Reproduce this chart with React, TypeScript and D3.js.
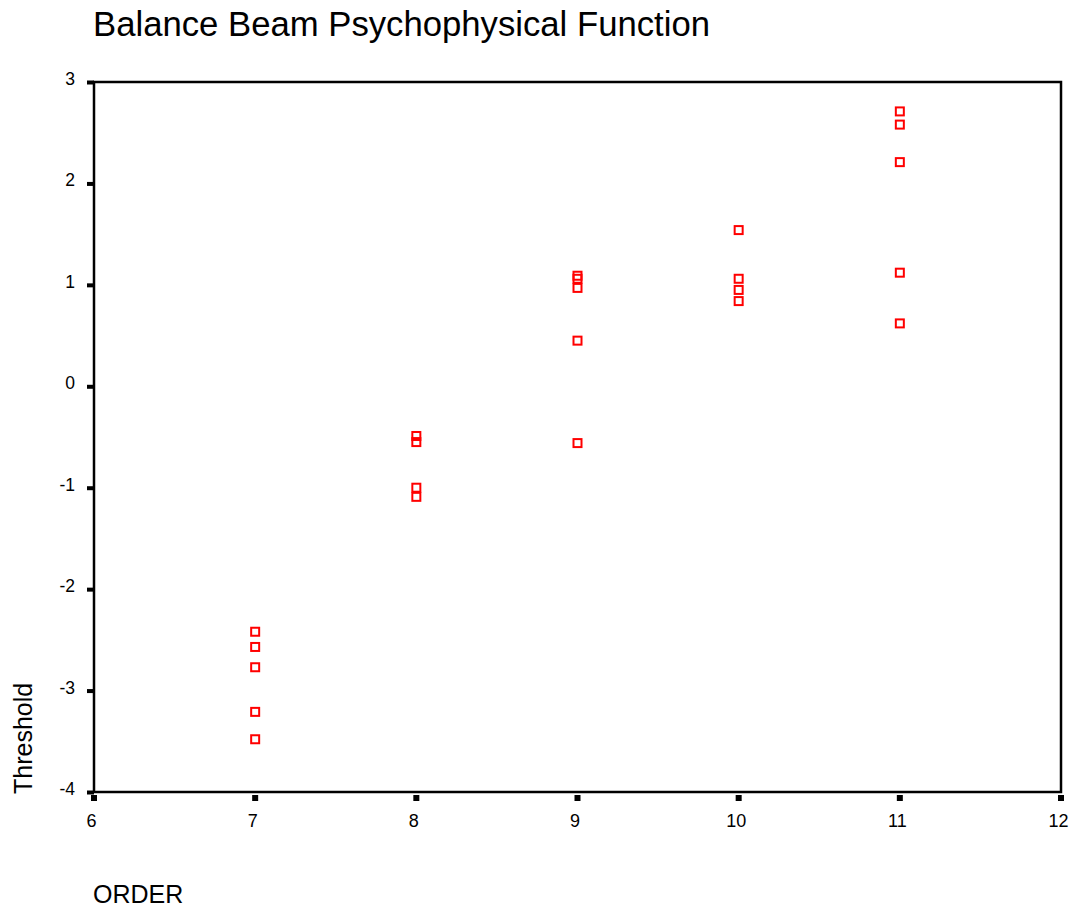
import * as d3 from 'd3';

// values
const orders = [7, 7, 7, 7, 7, 8, 8, 8, 8, 9, 9, 9, 9, 9, 10, 10, 10, 10, 11, 11, 11, 11, 11];
const thresholds = [
  -2.42, -2.57, -2.77, -3.21, -3.48,
  -0.49, -0.55, -1.0, -1.09,
  1.09, 1.06, 0.97, 0.45, -0.56,
  1.54, 1.06, 0.95, 0.84,
  2.71, 2.58, 2.21, 1.12, 0.62,
];
const xTicks = [6, 7, 8, 9, 10, 11, 12];
const yTicks = [3, 2, 1, 0, -1, -2, -3, -4];

const W = 1075;
const H = 914;
const margin = { left: 94, right: 14, top: 82, bottom: 122 };
const font = '"Liberation Sans", Arial, sans-serif';

export default function App() {
  const x = d3.scaleLinear().domain([6, 12]).range([margin.left, W - margin.right]);
  const y = d3.scaleLinear().domain([-4, 3]).range([H - margin.bottom, margin.top]);
  const points = orders.map((o, i) => ({ o, t: thresholds[i] }));

  return (
    <svg
      width={W}
      height={H}
      style={{ position: 'absolute', left: 0, top: 0, background: '#fff' }}
      fontFamily={font}
    >
      <text x={93} y={36} fontSize={34.7} fill="#000">
        Balance Beam Psychophysical Function
      </text>

      {/* frame */}
      <rect
        x={x(6)}
        y={y(3)}
        width={x(12) - x(6)}
        height={y(-4) - y(3)}
        fill="none"
        stroke="#000"
        strokeWidth={2.5}
      />

      {/* y ticks */}
      {yTicks.map((t) => (
        <g key={'y' + t}>
          <rect x={x(6) - 7} y={y(t) - 1.5} width={7} height={4} fill="#000" />
          <text x={75} y={y(t) - 3} fontSize={17.5} textAnchor="end" dominantBaseline="central">
            {t}
          </text>
        </g>
      ))}

      {/* x ticks */}
      {xTicks.map((t) => (
        <g key={'x' + t}>
          <rect x={x(t) - 3} y={y(-4) + 3} width={6} height={6} fill="#000" />
          <text x={x(t) - 2.5} y={827} fontSize={18} textAnchor="middle">
            {t}
          </text>
        </g>
      ))}

      {/* points */}
      {points.map((p, i) => (
        <rect
          key={i}
          x={x(p.o) - 4}
          y={y(p.t) - 4}
          width={8}
          height={8}
          fill="none"
          stroke="#ff0000"
          strokeWidth={2}
        />
      ))}

      <text transform="translate(32,794) rotate(-90)" fontSize={25} textAnchor="start">
        Threshold
      </text>
      <text x={93} y={903} fontSize={25}>
        ORDER
      </text>
    </svg>
  );
}
